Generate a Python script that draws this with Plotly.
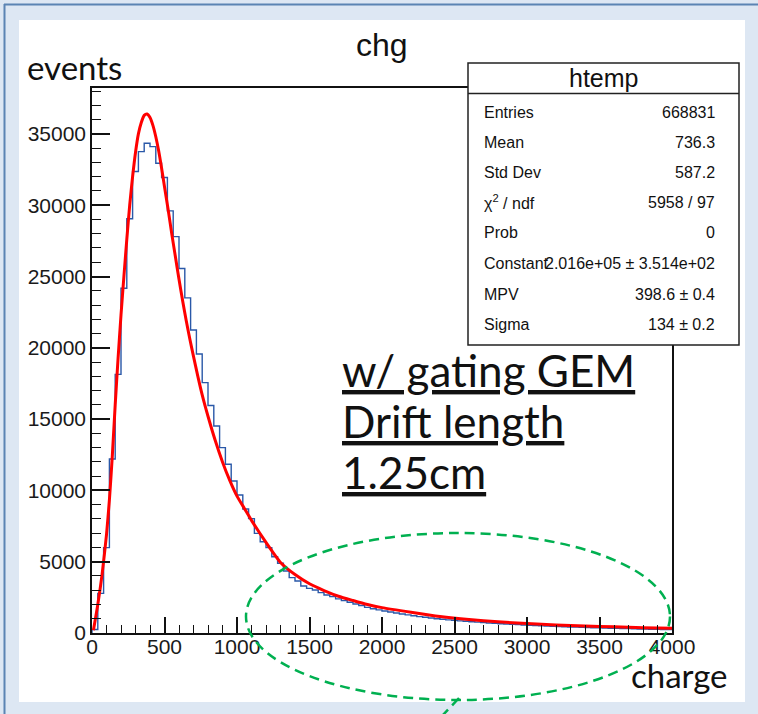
import plotly.graph_objects as go

# ---- histogram "chg" (100 bins of width 40 over 0..4000) ----
bin_width = 40
n_bins = 100
counts = [
    250, 2780, 5990, 12200, 18140, 24180, 29050, 32360, 33760, 34350,
    34110, 32940, 31940, 29600, 27800, 25560, 23500, 21250, 19570, 17560,
    15950, 14520, 13000, 11830, 10660, 9680, 8700, 8020, 6990, 6400,
    5990, 5350, 4890, 4350, 3880, 3650, 3300, 3130, 3020, 2830,
    2670, 2550, 2390, 2270, 2160, 2030, 1930, 1800, 1700, 1620,
    1540, 1470, 1400, 1330, 1270, 1210, 1150, 1100, 1050, 1000,
    960, 920, 890, 850, 820, 790, 760, 735, 700, 680,
    650, 630, 610, 585, 565, 545, 525, 505, 490, 470,
    455, 440, 425, 410, 400, 385, 370, 360, 345, 335,
    325, 315, 305, 295, 285, 275, 265, 255, 245, 235,
]

# ---- Landau fit curve (sampled points) ----
fit_x = [10, 40, 70, 100, 120, 140, 160, 180, 200, 220, 240, 260, 280, 300,
         320, 340, 360, 380, 400, 420, 440, 460, 480, 500, 525, 550, 575,
         600, 625, 650, 675, 700, 730, 760, 800, 850, 900, 950, 1000, 1050,
         1100, 1200, 1300, 1400, 1500, 1600, 1700, 1800, 1900, 2000, 2200,
         2400, 2600, 2800, 3000, 3200, 3400, 3600, 3800, 4000]
fit_y = [200, 2000, 4150, 6900, 9330, 12400, 16000, 19300, 22300, 25000,
         27600, 30000, 32000, 33700, 35000, 35800, 36300, 36400, 36150,
         35600, 34800, 33800, 32600, 31300, 29700, 28000, 26400, 24800,
         23300, 21900, 20600, 19400, 18000, 16700, 15200, 13500, 12000,
         10700, 9600, 8750, 7900, 6350, 4950, 4100, 3450, 2980, 2580, 2280,
         2000, 1780, 1450, 1150, 940, 790, 660, 560, 490, 430, 375, 325]

# ---- axis ticks ----
x_ticks = [0, 500, 1000, 1500, 2000, 2500, 3000, 3500, 4000]
y_ticks = [0, 5000, 10000, 15000, 20000, 25000, 30000, 35000]
y_max = 38220

# ---- statistics box ----
stats_title = "htemp"
stats_labels = ["Entries", "Mean", "Std Dev", "χ<sup>2</sup> / ndf", "Prob",
                "Constant", "MPV", "Sigma"]
stats_values = ["668831", "736.3", "587.2", "5958 / 97", "0",
                "2.016e+05 ± 3.514e+02", "398.6 ± 0.4", "134 ± 0.2"]

note_lines = ["w/ gating GEM", "Drift length", "1.25cm"]

W, H = 758, 714
L, R, T, B = 92, 672, 88, 633   # plot-area edges in pixels


def fx(px):
    return (px - L) / (R - L)


def fy(py):
    return (B - py) / (B - T)


edges = [i * bin_width for i in range(n_bins + 1)]
step_x = [edges[0]] + edges
step_y = [0] + counts + [counts[-1]]

fig = go.Figure()
fig.add_trace(go.Scatter(
    x=step_x, y=step_y, mode="lines", line_shape="hv",
    line=dict(color="#2a58a8", width=1.4), hoverinfo="skip",
))
fig.add_trace(go.Scatter(
    x=fit_x, y=fit_y, mode="lines", line_shape="spline",
    line=dict(color="#ff0000", width=3, smoothing=0.6), hoverinfo="skip",
))

tick_font = dict(family="Liberation Sans, Arial", size=21, color="#1a1a1a")

fig.update_xaxes(
    range=[0, 4000], tickvals=x_ticks, ticktext=[str(v) for v in x_ticks],
    ticks="inside", ticklen=16, tickwidth=1.5, tickcolor="#111",
    minor=dict(ticks="inside", ticklen=8, dtick=100, tickwidth=1.3,
               tickcolor="#111", showgrid=False),
    showline=True, linecolor="#111", linewidth=1.5, mirror=True,
    showgrid=False, zeroline=False, tickfont=tick_font,
    ticklabelstandoff=-6,
)
fig.update_yaxes(
    range=[0, y_max], tickvals=y_ticks, ticktext=[str(v) for v in y_ticks],
    ticks="inside", ticklen=18, tickwidth=1.5, tickcolor="#111",
    minor=dict(ticks="inside", ticklen=9, dtick=1000, tickwidth=1.3,
               tickcolor="#111", showgrid=False),
    showline=True, linecolor="#111", linewidth=1.5, mirror=True,
    showgrid=False, zeroline=False, tickfont=tick_font,
    ticklabelstandoff=0,
)

shapes = [
    # white canvas panel
    dict(type="rect", xref="paper", yref="paper", layer="below",
         x0=fx(19), x1=fx(745), y0=fy(702), y1=fy(20),
         fillcolor="white", line=dict(width=0)),
    # window border lines
    dict(type="line", xref="paper", yref="paper",
         x0=fx(4), x1=fx(758), y0=fy(4.5), y1=fy(4.5),
         line=dict(color="#5b84b3", width=2)),
    dict(type="line", xref="paper", yref="paper",
         x0=fx(4.5), x1=fx(4.5), y0=fy(4), y1=fy(714),
         line=dict(color="#5b84b3", width=2)),
    # statistics box
    dict(type="rect", xref="paper", yref="paper", layer="above",
         x0=fx(468), x1=fx(739), y0=fy(345), y1=fy(63),
         fillcolor="white", line=dict(color="#222", width=1.5)),
    dict(type="line", xref="paper", yref="paper",
         x0=fx(468), x1=fx(739), y0=fy(93.5), y1=fy(93.5),
         line=dict(color="#222", width=1.5)),
    # dashed highlight of the tail region
    dict(type="circle", xref="paper", yref="paper",
         x0=fx(246), x1=fx(670), y0=fy(700), y1=fy(533),
         line=dict(color="#00b050", width=2.5, dash="10px,6px")),
    dict(type="line", xref="paper", yref="paper",
         x0=fx(459), x1=fx(442), y0=fy(698), y1=fy(716),
         line=dict(color="#00b050", width=2.5, dash="10px,6px")),
]

annotations = [
    dict(text="chg", x=fx(382), y=fy(45), xanchor="center", yanchor="middle",
         font=dict(family="Liberation Sans, Arial", size=32, color="#111")),
    dict(text="events", x=fx(25), y=fy(67), xanchor="left", yanchor="middle",
         font=dict(family="Lato", size=33, color="#111")),
    dict(text="charge", x=fx(629), y=fy(675), xanchor="left", yanchor="middle",
         font=dict(family="Lato", size=33, color="#111")),
    dict(text=stats_title, x=fx(603.5), y=fy(78), xanchor="center",
         yanchor="middle",
         font=dict(family="Liberation Sans, Arial", size=25, color="#111")),
]

row_y = [112, 142, 172, 202, 233, 263, 294, 324]
for lab, val, ry in zip(stats_labels, stats_values, row_y):
    annotations.append(dict(
        text=lab, x=fx(482), y=fy(ry), xanchor="left", yanchor="middle",
        font=dict(family="Liberation Sans, Arial", size=16, color="#111")))
    annotations.append(dict(
        text=val, x=fx(717), y=fy(ry), xanchor="right", yanchor="middle",
        font=dict(family="Liberation Sans, Arial", size=16, color="#111")))

for line, ly in zip(note_lines, [370, 421, 472]):
    annotations.append(dict(
        text="<u>" + line + "</u>", x=fx(340), y=fy(ly), xanchor="left",
        yanchor="middle", font=dict(family="Lato", size=44, color="#111")))

for a in annotations:
    a.update(xref="paper", yref="paper", showarrow=False)

fig.update_layout(
    width=W, height=H,
    margin=dict(l=L, r=W - R, t=T, b=H - B),
    paper_bgcolor="#dde7f3", plot_bgcolor="white",
    showlegend=False, shapes=shapes, annotations=annotations,
)

fig.write_html("out.html")
